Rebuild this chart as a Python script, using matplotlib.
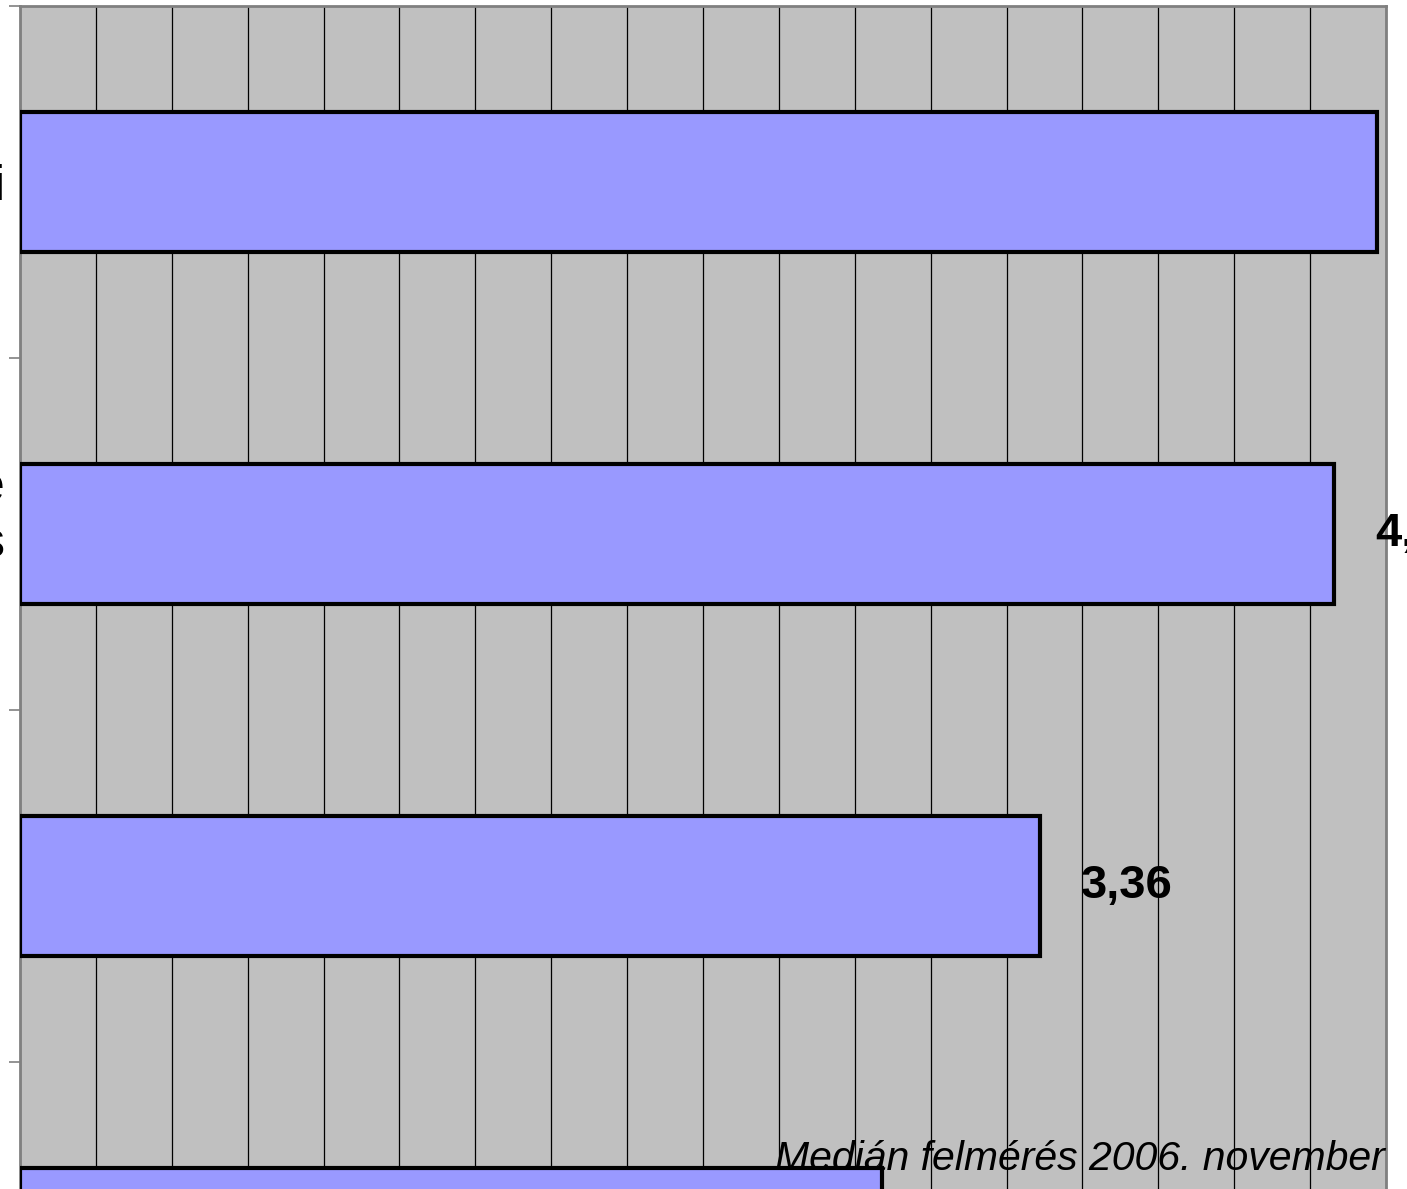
import matplotlib.pyplot as plt
import numpy as np

# only the right end of each category label is visible in the crop
categories = ["i", "e\ns\n", "", ",\n\n"]
values = [4.47, 4.33, 3.36, 2.84]
value_labels = ["4,47", "4,33", "3,36", "2,84"]
source = "Medián felmérés 2006. november"

W, H = 1407, 1189
fig = plt.figure(figsize=(W / 100, H / 100), dpi=100)
# plot area runs past the bottom of the picture (the reference is cropped)
ax = fig.add_axes([20 / W, (H - 1414) / H, 1366 / W, 1408 / H])

y = np.arange(len(values))
ax.barh(y, values, height=0.4, color="#9999FF", edgecolor="black",
        linewidth=3, zorder=3)

ax.set_xlim(0, 4.5)
ax.set_ylim(3.5, -0.5)
ax.set_facecolor("#C0C0C0")

ax.set_xticks(np.arange(0, 4.51, 0.25))
ax.tick_params(axis="x", length=0, labelbottom=False)
ax.grid(axis="x", color="black", linewidth=0.9)
ax.set_axisbelow(True)

# category labels on major ticks, tick marks at the category borders
ax.set_yticks(y)
ax.set_yticklabels(categories, fontsize=36, family=["Liberation Sans", "DejaVu Sans"])
ax.tick_params(axis="y", which="major", length=0, pad=10.8)
ax.set_yticks(np.arange(-0.5, 3.6, 1), minor=True)
ax.tick_params(axis="y", which="minor", length=8, width=1.2, color="#808080")
for t in ax.get_yticklabels():
    t.set_linespacing(1.28)
    t.set_multialignment("right")

for side in ["top", "left", "right"]:
    ax.spines[side].set_color("#808080")
    ax.spines[side].set_linewidth(2)
ax.spines["bottom"].set_visible(False)

for v, lab, yi in zip(values, value_labels, y):
    ax.annotate(lab, (v, yi), xytext=(29.5, 0), textcoords="offset points",
                ha="left", va="center", fontsize=34, fontweight="bold",
                fontstretch="condensed",
                family=["Liberation Sans Narrow", "DejaVu Sans Condensed",
                        "Liberation Sans", "DejaVu Sans"],
                annotation_clip=False)

fig.text(1385 / W, (H - 1170) / H, source, ha="right", va="baseline",
         fontsize=29.5, style="italic", family=["Liberation Sans", "DejaVu Sans"],
         zorder=10)

fig.savefig("out.png", dpi=100)
